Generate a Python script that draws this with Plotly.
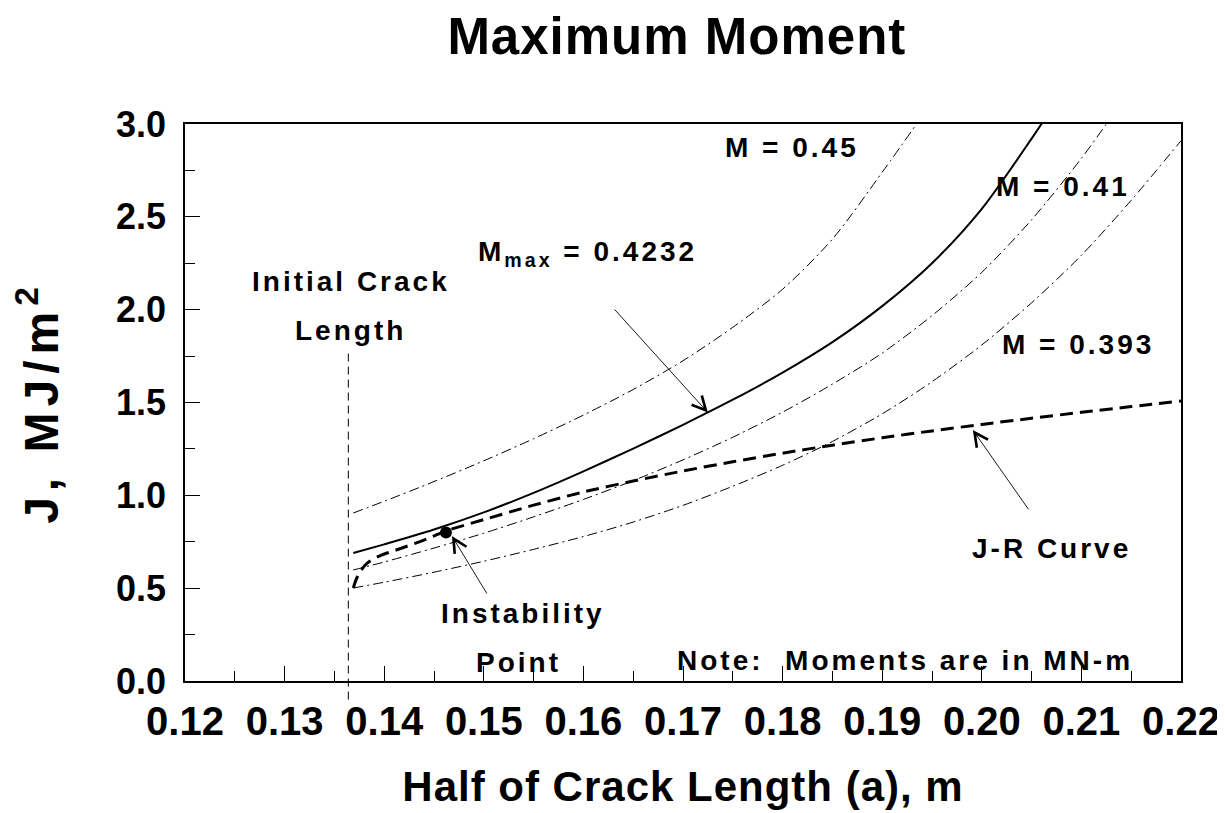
import plotly.graph_objects as go

# ---- data ----
# Half crack length a (m) and J (MJ/m^2)
a_M45 = [0.1369, 0.140, 0.145, 0.150, 0.155, 0.160, 0.165, 0.170, 0.175, 0.180, 0.185, 0.190, 0.1945]
J_M45 = [0.905, 0.968, 1.074, 1.186, 1.305, 1.432, 1.570, 1.725, 1.905, 2.110, 2.380, 2.740, 3.080]

a_Mmax = [0.1369, 0.140, 0.145, 0.150, 0.155, 0.160, 0.165, 0.170, 0.175, 0.180, 0.185, 0.190,
          0.195, 0.200, 0.205, 0.2067]
J_Mmax = [0.689, 0.736, 0.816, 0.908, 1.013, 1.129, 1.252, 1.380, 1.515, 1.661, 1.825, 2.019,
          2.250, 2.543, 2.921, 3.058]

a_M41 = [0.1369, 0.140, 0.145, 0.150, 0.155, 0.160, 0.165, 0.170, 0.175, 0.180, 0.185, 0.190,
         0.195, 0.200, 0.205, 0.210, 0.2124, 0.2130]
J_M41 = [0.598, 0.641, 0.716, 0.796, 0.884, 0.978, 1.079, 1.191, 1.313, 1.448, 1.599, 1.766,
         1.968, 2.201, 2.484, 2.815, 2.992, 3.037]

a_M393 = [0.1369, 0.140, 0.145, 0.150, 0.155, 0.160, 0.165, 0.170, 0.175, 0.180, 0.185, 0.190,
          0.195, 0.200, 0.205, 0.210, 0.215, 0.220]
J_M393 = [0.501, 0.532, 0.586, 0.645, 0.709, 0.778, 0.856, 0.946, 1.049, 1.162, 1.290, 1.439,
          1.612, 1.810, 2.037, 2.293, 2.589, 2.910]

a_JR = [0.1369, 0.1372, 0.1377, 0.1383, 0.1395, 0.1415, 0.1440, 0.1462, 0.150, 0.155, 0.160,
        0.165, 0.170, 0.175, 0.180, 0.185, 0.190, 0.195, 0.200, 0.205, 0.210, 0.215, 0.220]
J_JR = [0.501, 0.549, 0.598, 0.635, 0.673, 0.711, 0.759, 0.808, 0.869, 0.947, 1.018,
        1.077, 1.131, 1.181, 1.227, 1.270, 1.310, 1.347, 1.382, 1.415, 1.447, 1.478, 1.508]

a_inst = [0.1462]
J_inst = [0.800]

a_initial = 0.1364
J_initial_top = 1.77
J_initial_bottom = -0.1

x_range = [0.12, 0.22]
y_range = [0.0, 3.0]

BLACK = "black"
FONT = "Liberation Sans"
DASHDOT = "10px,4px,2px,4px"
TXT = dict(family=FONT, size=28, color=BLACK, weight="bold")


def spaced(t, px=3):
    return '<span style="letter-spacing:%dpx">%s</span>' % (px, t)


fig = go.Figure()
for xs, ys in [(a_M45, J_M45), (a_M41, J_M41), (a_M393, J_M393)]:
    fig.add_trace(go.Scatter(x=xs, y=ys, mode="lines",
                             line=dict(color=BLACK, width=1, dash=DASHDOT, shape="spline", smoothing=0.8)))
fig.add_trace(go.Scatter(x=a_Mmax, y=J_Mmax, mode="lines",
                         line=dict(color=BLACK, width=2, shape="spline", smoothing=0.8)))
fig.add_trace(go.Scatter(x=a_JR, y=J_JR, mode="lines",
                         line=dict(color=BLACK, width=3, dash="13px,7px", shape="spline", smoothing=0.8)))
fig.add_trace(go.Scatter(x=a_inst, y=J_inst, mode="markers",
                         marker=dict(color=BLACK, size=12)))

span = y_range[1] - y_range[0]
fig.add_shape(type="line", xref="x", yref="paper",
              x0=a_initial, x1=a_initial,
              y0=(J_initial_bottom - y_range[0]) / span,
              y1=(J_initial_top - y_range[0]) / span,
              line=dict(color=BLACK, width=1, dash="8px,5px"))

texts = [
    ("M = 0.45", 0.18096, 2.873),
    ("M = 0.41", 0.20818, 2.666),
    ("M = 0.393", 0.20966, 1.810),
    ("M<sub>max</sub> = 0.4232", 0.16046, 2.300),
    ("Initial Crack", 0.13667, 2.154),
    ("Length", 0.13662, 1.890),
    ("Instability", 0.15394, 0.361),
    ("Point", 0.15349, 0.102),
    ("J-R Curve", 0.20695, 0.711),
    ("Note:  Moments are in MN-m", 0.19230, 0.108),
]
for t, x, y in texts:
    fig.add_annotation(x=x, y=y, text=spaced(t), showarrow=False, font=TXT,
                       xanchor="center", yanchor="middle")

arrows = [
    (0.1725, 1.446, 0.1630, 2.009),
    (0.1468, 0.781, 0.1504, 0.463),
    (0.1991, 1.352, 0.2048, 0.916),
]
for x, y, ax, ay in arrows:
    fig.add_annotation(x=x, y=y, ax=ax, ay=ay, axref="x", ayref="y", text="",
                       showarrow=True, arrowhead=5, arrowsize=3, arrowwidth=0.9,
                       arrowcolor=BLACK, standoff=0, startstandoff=0)

fig.update_layout(
    width=1225, height=813,
    margin=dict(l=177, r=52, t=116, b=140),
    paper_bgcolor="white", plot_bgcolor="white",
    showlegend=False,
    title=dict(text=spaced("Maximum Moment", 1), x=0.546, xanchor="center", y=0.9656, yanchor="middle",
               xref="container", yref="container",
               font=dict(family=FONT, size=51, color=BLACK, weight="bold")),
    xaxis=dict(range=x_range, tick0=0.12, dtick=0.01, tickformat=".2f",
               ticks="inside", ticklen=15, tickwidth=1, tickcolor=BLACK,
               minor=dict(dtick=0.005, ticks="inside", ticklen=10, tickcolor=BLACK, showgrid=False),
               showline=True, linecolor=BLACK, linewidth=1.5, mirror=True,
               showgrid=False, zeroline=False,
               tickfont=dict(family=FONT, size=40, color=BLACK, weight="bold"),
               ticklabelstandoff=4,
               title=dict(text=spaced("Half of Crack Length (a), m", 1), standoff=30,
                          font=dict(family=FONT, size=42, color=BLACK, weight="bold"))),
    yaxis=dict(range=y_range, tick0=0, dtick=0.5, tickformat=".1f",
               ticks="inside", ticklen=15, tickwidth=1, tickcolor=BLACK,
               minor=dict(dtick=0.25, ticks="inside", ticklen=10, tickcolor=BLACK, showgrid=False),
               showline=True, linecolor=BLACK, linewidth=1.5, mirror=True,
               showgrid=False, zeroline=False,
               tickfont=dict(family=FONT, size=36, color=BLACK, weight="bold"),
               ticklabelstandoff=10,
               title=dict(text=spaced("J, MJ/m<sup>2</sup>", 6), standoff=45,
                          font=dict(family=FONT, size=48, color=BLACK, weight="bold"))),
)

fig.write_html("out.html")
